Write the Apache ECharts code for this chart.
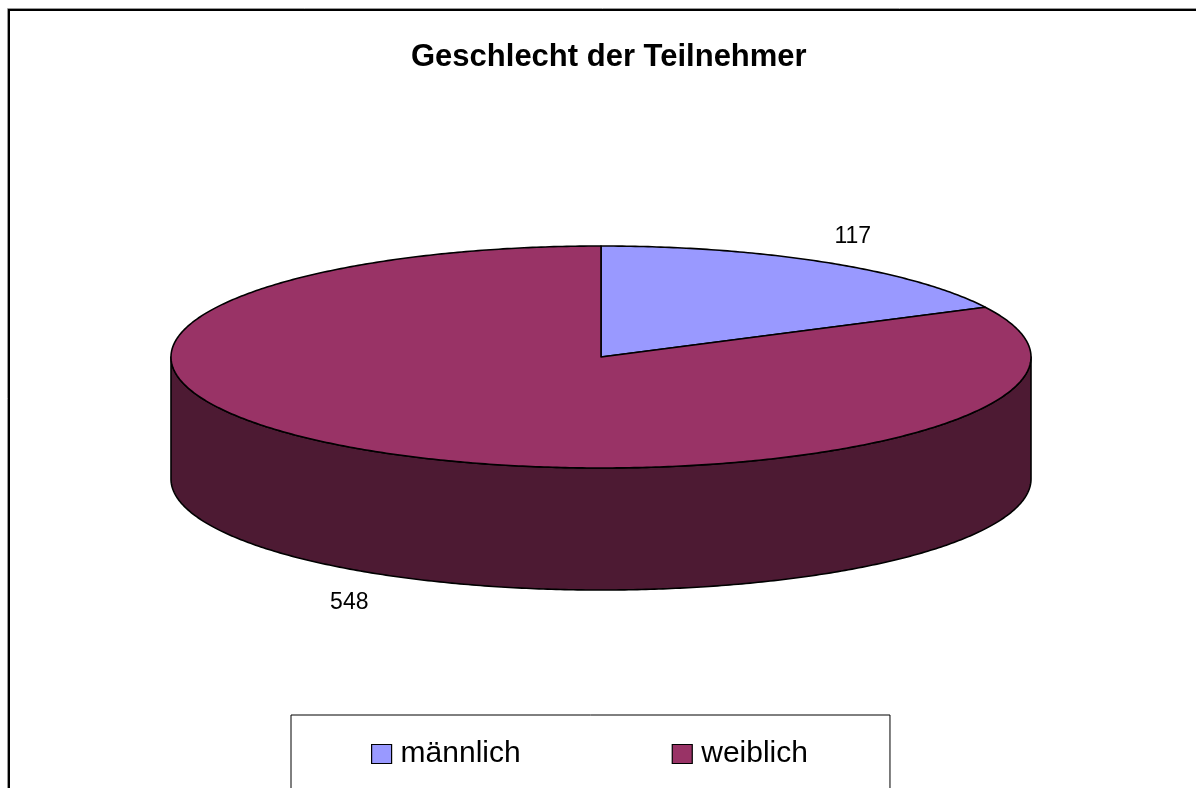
<!DOCTYPE html>
<html>
<head>
<meta charset="utf-8">
<script src="https://cdn.jsdelivr.net/npm/echarts@6/dist/echarts.min.js"></script>
<style>
html,body{margin:0;padding:0;background:#fff;}
#chart{width:1196px;height:788px;}
</style>
</head>
<body>
<div id="chart"></div>
<script>
// ---- data ----
const titleText = 'Geschlecht der Teilnehmer';
const categories = ['männlich', 'weiblich'];
const values = [117, 548];

// ---- styles / layout ----
const topColors = ['#9999FF', '#993366'];
const sideColors = ['#4D4D80', '#4D1A33'];
const FONT = '"Liberation Sans", Arial, sans-serif';
const G = { cx: 601, cy: 357, rx: 430, ry: 111, depth: 122 };

const total = values.reduce((a, b) => a + b, 0);
function sliceAngles(i) {
  let s = 0;
  for (let k = 0; k < i; k++) s += values[k];
  return [s / total * 2 * Math.PI, (s + values[i]) / total * 2 * Math.PI];
}
function pt(t, dy) {
  return [G.cx + G.rx * Math.sin(t), G.cy - G.ry * Math.cos(t) + (dy || 0)];
}
function arc(a, b, dy) {
  const n = Math.max(8, Math.ceil(Math.abs(b - a) / 0.01));
  const out = [];
  for (let k = 0; k <= n; k++) out.push(pt(a + (b - a) * k / n, dy));
  return out;
}

function makeRender(i) {
  return function (params, api) {
    const [t1, t2] = sliceAngles(i);
    const children = [];
    const a = Math.max(t1, Math.PI / 2), b = Math.min(t2, 3 * Math.PI / 2);
    if (b > a) {
      const pts = arc(a, b, 0).concat(arc(b, a, G.depth));
      children.push({
        type: 'polygon', z2: 1,
        shape: { points: pts },
        style: { fill: sideColors[i], stroke: '#000', lineWidth: 1.6, lineJoin: 'round' }
      });
    }
    const topPts = [[G.cx, G.cy]].concat(arc(t1, t2, 0));
    children.push({
      type: 'polygon', z2: 2,
      shape: { points: topPts },
      style: { fill: topColors[i], stroke: '#000', lineWidth: 1.6, lineJoin: 'round' }
    });
    const mid = (t1 + t2) / 2;
    const front = Math.cos(mid) < 0;
    children.push({
      type: 'text', z2: 3,
      style: {
        text: String(api.value(0)),
        x: G.cx + 1.115 * G.rx * Math.sin(mid),
        y: G.cy - 1.29 * G.ry * Math.cos(mid) + (front ? G.depth : 0) + 2,
        align: 'center', verticalAlign: 'middle',
        fontSize: 23, fontFamily: FONT, fill: '#000'
      }
    });
    return { type: 'group', children };
  };
}

const chart = echarts.init(document.getElementById('chart'), null, { renderer: 'canvas' });
chart.setOption({
  backgroundColor: '#fff',
  animation: false,
  title: {
    text: titleText, left: 406, top: 37,
    textStyle: { fontSize: 31, fontWeight: 'bold', fontFamily: FONT, color: '#000' }
  },
  legend: {
    data: categories,
    left: 291, top: 715,
    padding: [24, 82, 60, 80],
    borderColor: '#000', borderWidth: 1,
    backgroundColor: '#fff',
    itemGap: 151, itemWidth: 20, itemHeight: 19,
    icon: 'rect',
    selectedMode: false,
    itemStyle: { borderColor: '#000', borderWidth: 1.2 },
    textStyle: { fontSize: 30, fontFamily: FONT, color: '#000', padding: [0, 0, 0, 4] }
  },
  graphic: [
    { type: 'rect', shape: { x: 7.5, y: 8.5, width: 1400, height: 1000 }, style: { fill: null, stroke: '#999', lineWidth: 1 }, z: -1 },
    { type: 'rect', shape: { x: 9, y: 10, width: 1400, height: 1000 }, style: { fill: null, stroke: '#000', lineWidth: 2 }, z: -1 }
  ],
  series: categories.map((name, i) => ({
    type: 'custom',
    name,
    coordinateSystem: 'none',
    itemStyle: { color: topColors[i] },
    data: [[values[i]]],
    renderItem: makeRender(i)
  }))
});
</script>
</body>
</html>
